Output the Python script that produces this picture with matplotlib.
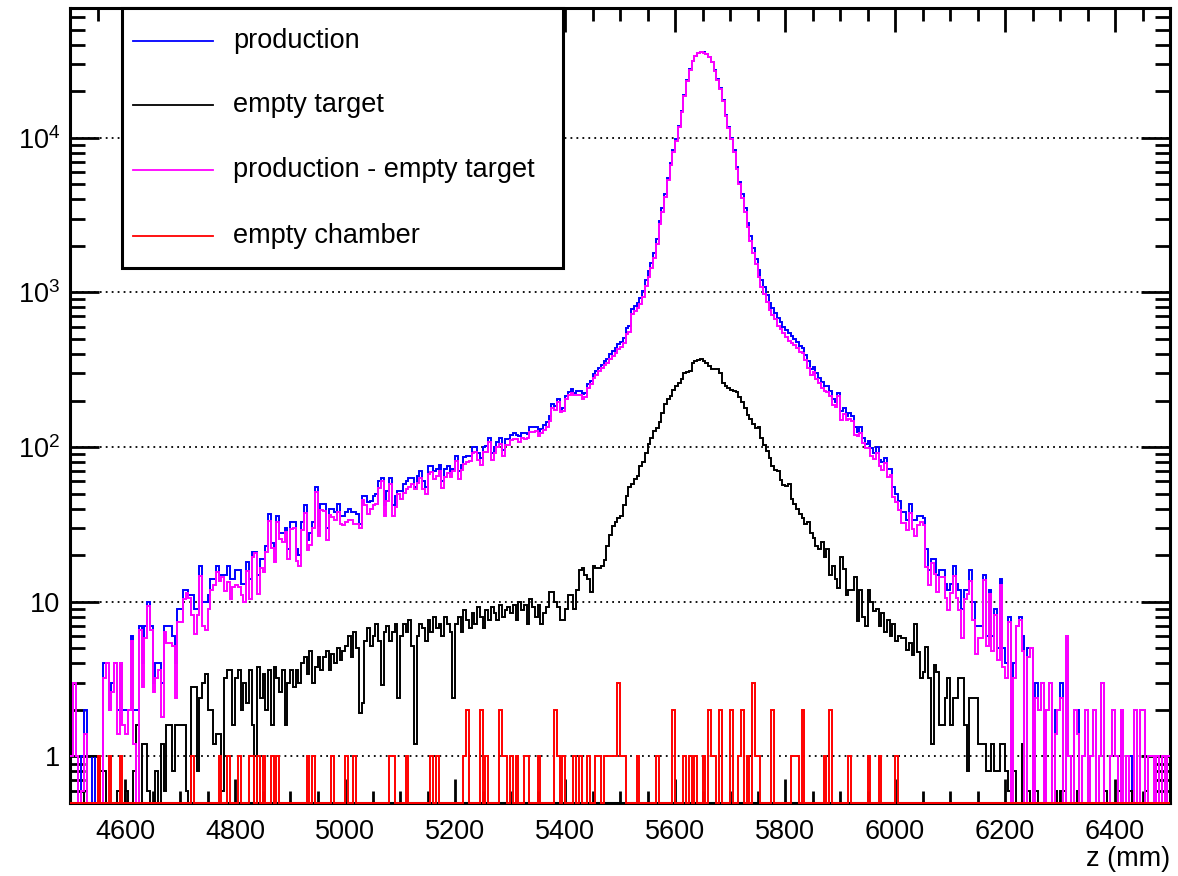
import numpy as np
import matplotlib
matplotlib.use("Agg")
import matplotlib.pyplot as plt
from matplotlib.ticker import FixedLocator, FixedFormatter, LogLocator, MultipleLocator, NullFormatter
from matplotlib.patches import Rectangle
from matplotlib.lines import Line2D

plt.rcParams['font.family'] = ['Liberation Sans', 'DejaVu Sans']
plt.rcParams['mathtext.fontset'] = 'custom'
plt.rcParams['mathtext.rm'] = 'Liberation Sans'
plt.rcParams['mathtext.it'] = 'Liberation Sans:italic'

# ---------------- data (5 mm bins from 4500 to 6500 mm) ----------------
z_min, z_max, n_bins = 4500, 6500, 400

production = np.array(
    [1,3,1,0,1,2,1,1,0,1,1,0,4,4,2,3,4,2,4,2] +
    [2,2,6,2,2,7,4,7,10,7,3,4,4,3,7,7,7,6,4,9] +
    [9,12,12,11,11,9,9,17,10,10,11,14,14,17,15,15,15,17,14,14] +
    [16,16,13,13,18,14,21,21,15,19,19,23,37,24,22,36,28,28,30,22] +
    [33,33,22,20,33,42,25,28,33,55,31,43,43,30,40,40,38,43,36,36] +
    [38,40,38,38,37,32,48,48,44,45,48,50,60,63,42,52,63,42,48,52] +
    [52,58,60,63,63,55,65,70,60,55,75,75,70,72,77,60,72,75,70,72] +
    [88,70,77,86,88,88,100,100,92,85,100,102,115,92,100,108,115,96,112,112] +
    [120,123,120,118,123,123,122,135,135,135,128,130,138,145,160,190,185,205,175,180] +
    [215,228,236,225,230,232,222,225,255,268,296,310,325,340,360,372,400,420,440,465] +
    [480,510,590,610,780,815,860,920,1020,1200,1370,1550,1800,2200,2900,3500,4300,5500,6900,8300] +
    [9800,12000,15000,19000,23500,27700,31500,34000,35500,36000,35800,35000,33500,31000,27500,24000,21000,17500,14000,11800] +
    [10000,8300,6500,5200,4300,3500,2800,2300,1950,1650,1400,1200,1080,960,860,790,740,680,640,600] +
    [570,545,520,500,475,450,440,395,360,320,330,300,280,265,250,250,230,205,195,225] +
    [170,180,160,165,160,135,125,135,115,105,110,98,92,100,82,80,85,72,72,55] +
    [50,45,38,38,34,43,34,34,36,36,35,22,16,19,19,15,16,16,13,12] +
    [13,17,13,12,9,12,12,16,10,7,7,7,15,6,12,6,9,5,14,5] +
    [4,8,0,4,7,8,6,0,5,5,0,3,2,3,0,2,3,0,2,2] +
    [3,0,6,1,0,2,2,0,1,2,0,1,2,0,1,3,0,0,1,2] +
    [1,0,2,0,1,1,0,2,0,2,2,0,1,1,0,1,0,1,0,1], dtype=float)

empty_target = np.array(
    [0,0,0,0,0.4,0.6,1,1,1,1,0.6,0.8,0.8,0,0,0.4,0,0.6,0,0.4] +
    [0.6,0,0.4,0.8,1.6,0.4,1.2,1.2,0.6,0.4,0.4,0.8,0.4,1.2,0.6,1.6,1.6,0.8,1.6,1.6] +
    [1.6,1.6,0.6,0.4,2.8,2.8,0.8,2.4,3.0,3.4,2.0,2.0,1.2,1.4,1.4,0.6,3.2,3.6,3.6,1.6] +
    [3.2,3.6,2.0,3.0,2.2,3.6,1.6,0.4,3.8,2.4,3.4,2.0,3.6,1.6,3.8,3.2,2.6,3.6,1.6,3.0] +
    [3.6,2.8,3.6,3.0,4.0,4.4,3.4,4.8,3.0,3.8,4.4,3.6,4.4,4.8,3.6,4.6,4.0,5.0,4.2,4.8] +
    [5.2,6.0,4.4,6.4,5.0,1.9,2.2,5.6,6.8,5.2,6.0,7.2,5.6,2.9,6.4,7.0,5.6,6.4,7.2,2.4] +
    [6.0,7.2,6.4,7.6,5.2,1.2,6.0,7.2,6.8,5.6,7.6,6.4,8.0,6.8,7.2,6.0,8.0,7.2,6.4,2.4] +
    [7.2,8.0,6.4,8.8,7.6,6.8,8.4,7.2,9.2,8.0,6.8,8.8,7.6,9.2,8.4,7.6,9.6,8.0,8.8,9.2] +
    [8.4,9.6,7.6,10.0,8.8,9.6,7.2,10.4,9.2,8.0,9.6,7.2,8.4,9.2,11.6,11.6,10.0,9.2,7.6,7.6] +
    [9.0,11.0,11.0,9.0,12.0,16.0,16.6,15.0,14.0,11.6,17.0,16.6,16.6,17.0,18.5,23,27,31,33,35] +
    [36,42,48,55,58,62,65,75,80,92,105,115,128,132,145,165,190,204,214,235] +
    [250,260,275,300,305,310,350,360,365,372,358,352,335,320,318,318,300,260,248,242] +
    [233,230,228,210,195,180,162,152,140,133,135,115,103,95,85,75,71,70,61,57] +
    [56,58,46,43,40,37,35,32,33,28,26,23,22,24.5,19.5,22,15,17,14,12.3] +
    [19.5,16.3,11,12,12,14.5,7.5,12,8,7,12,10,8.7,9,7,8.4,6.4,7.6,6.0,7.2] +
    [5.6,6.0,5.8,5.8,4.9,5.4,4.5,7.2,4.7,3.2,3.5,5.1,3.2,1.2,3.9,3.5,1.6,1.6,2.4,3.2] +
    [1.6,2.4,2.4,3.2,3.2,1.6,0.8,2.4,2.4,2.4,1.2,1.2,1.2,0.8,0.8,1.2,0.8,0.8,1.2,1.2] +
    [0.8,0.6,0,0.8,0,0.4,1.2,0,0.6,0,0,0.6,0,0,0.6,0,0,0,0.6,0] +
    [0.6,0.6,0,0,0,0,0.6,0,0,0,0.6,0,0,0,0,0,0.6,0,0,0] +
    [0,0.6,0,0,0,0.6,0,0,0,0,0,0.6,0,0,0,0,0,0,0.6,0], dtype=float)

empty_chamber = np.array(
    [0,0,0,0,0,0,0,0,0,0,1,0,0,0,1,0,0,0,1,0] +
    [0,0,0,0,0,0,0,0,0,0,0,0,0,0,0,0,0,0,0,0] +
    [0,0,0,0,1,0,0,0,0,0,0,0,0,0,1,0,0,1,0,0] +
    [0,1,0,0,0,1,1,0,1,0,1,0,0,1,0,1,0,0,0,0] +
    [0,0,0,0,0,0,1,0,1,0,0,0,0,0,0,1,0,0,0,0] +
    [1,0,0,1,0,0,0,0,0,0,0,0,0,0,0,0,1,1,0,0] +
    [0,0,1,0,0,0,0,0,0,0,0,1,0,1,0,0,0,0,0,0] +
    [0,0,0,1,2,0,0,0,0,2,0,1,0,0,0,0,2,1,1,0] +
    [1,0,1,0,0,1,1,0,0,0,1,0,0,0,0,0,2,1,0,1] +
    [0,0,0,1,0,1,0,0,1,0,0,1,1,0,1,1,1,1,1,3] +
    [1,1,0,0,0,0,1,0,0,0,0,0,0,1,0,0,0,0,0,2] +
    [0,0,0,1,0,1,0,1,0,0,1,0,2,1,1,0,2,0,0,0] +
    [2,0,0,1,2,0,1,0,3,1,1,0,0,0,0,2,0,0,0,0] +
    [0,0,1,1,1,0,2,0,0,0,0,0,0,0,1,0,2,0,0,0] +
    [0,0,0,1,0,0,0,0,0,0,1,0,0,0,1,0,0,0,0,0] +
    [1,0,0,0,0,0,0,0,0,0,0,0,0,0,0,0,0,0,0,0] +
    [0,0,0,0,0,0,0,0,0,0,0,0,0,0,0,0,0,0,0,0] +
    [0,0,0,0,0,0,0,0,0,0,0,0,0,0,0,0,0,0,0,0] +
    [0,0,0,0,0,0,0,0,0,0,0,0,0,0,0,0,0,0,0,0] +
    [0,0,0,0,0,0,0,0,0,0,0,0,0,0,0,0,0,0,0,0], dtype=float)

# the plotted difference histogram is defined as production minus empty target
production_minus_empty = production - empty_target

series_labels = ["production", "empty target", "production - empty target", "empty chamber"]
series_colors = ["#0000ff", "#000000", "#ff00ff", "#ff0000"]
y_major = [1, 10, 100, 1000, 10000]
y_major_labels = ["1", "10", r"$\mathregular{10^{2}}$", r"$\mathregular{10^{3}}$", r"$\mathregular{10^{4}}$"]
x_major = [4600, 4800, 5000, 5200, 5400, 5600, 5800, 6000, 6200, 6400]
x_label = "z (mm)"

assert len(production) == n_bins and len(empty_target) == n_bins and len(empty_chamber) == n_bins

# ---------------- figure ----------------
W, H = 1178, 876
fig = plt.figure(figsize=(W / 100, H / 100), dpi=100)
ax = fig.add_axes([70 / W, 1 - 803 / H, 1100 / W, 795 / H])

ymin, ymax = 0.5, 6.9e4
edges = np.linspace(z_min, z_max, n_bins + 1)
ax.set_yscale("log")
ax.set_xlim(z_min, z_max)
ax.set_ylim(ymin, ymax)

series = [production, empty_target, production_minus_empty, empty_chamber]
for i, (vals, col) in enumerate(zip(series, series_colors)):
    shown = np.clip(vals, ymin, None)  # empty bins sit on the frame bottom, like ROOT
    ax.stairs(shown, edges, baseline=None, color=col, lw=1.4, zorder=3 + 0.1 * i, clip_on=False)

# grid
ax.grid(axis="y", which="major", color="black", linestyle=(0, (1, 2.3)), lw=1.3, zorder=1)
ax.set_axisbelow(True)

# ticks
ax.yaxis.set_major_locator(FixedLocator(y_major))
ax.yaxis.set_major_formatter(FixedFormatter(y_major_labels))
ax.yaxis.set_minor_locator(LogLocator(base=10, subs=np.arange(2, 10), numticks=20))
ax.yaxis.set_minor_formatter(NullFormatter())
ax.xaxis.set_major_locator(FixedLocator(x_major))
ax.xaxis.set_minor_locator(MultipleLocator(50))

ax.tick_params(which="both", direction="in", top=True, right=True, width=2.0, labelsize=19.5)
ax.tick_params(axis="y", which="major", length=21, pad=7)
ax.tick_params(axis="y", which="minor", length=10.5)
ax.tick_params(axis="x", which="major", length=17.5, pad=11.5)
ax.tick_params(axis="x", which="minor", length=9)
for s in ax.spines.values():
    s.set_linewidth(2.2)

ax.set_xlabel(x_label, fontsize=19.5, loc="right")
ax.xaxis.set_label_coords(1.0, -0.054)

# legend box (figure pixel layout of the reference)
fig.add_artist(Rectangle((122 / W, 1 - 268 / H), (563 - 122) / W, (268 - 8) / H,
                         transform=fig.transFigure, facecolor="white",
                         edgecolor="black", lw=2.2, zorder=10))
rows_y = [41, 105, 170, 236]
for lab, col, yy in zip(series_labels, series_colors, rows_y):
    fig.add_artist(Line2D([133 / W, 213 / W], [1 - yy / H, 1 - yy / H],
                          transform=fig.transFigure, color=col, lw=1.3, zorder=11))
    fig.text(233 / W, 1 - yy / H, lab, fontsize=19.5, va="center", ha="left", zorder=12)

fig.savefig("out.png", dpi=100)
